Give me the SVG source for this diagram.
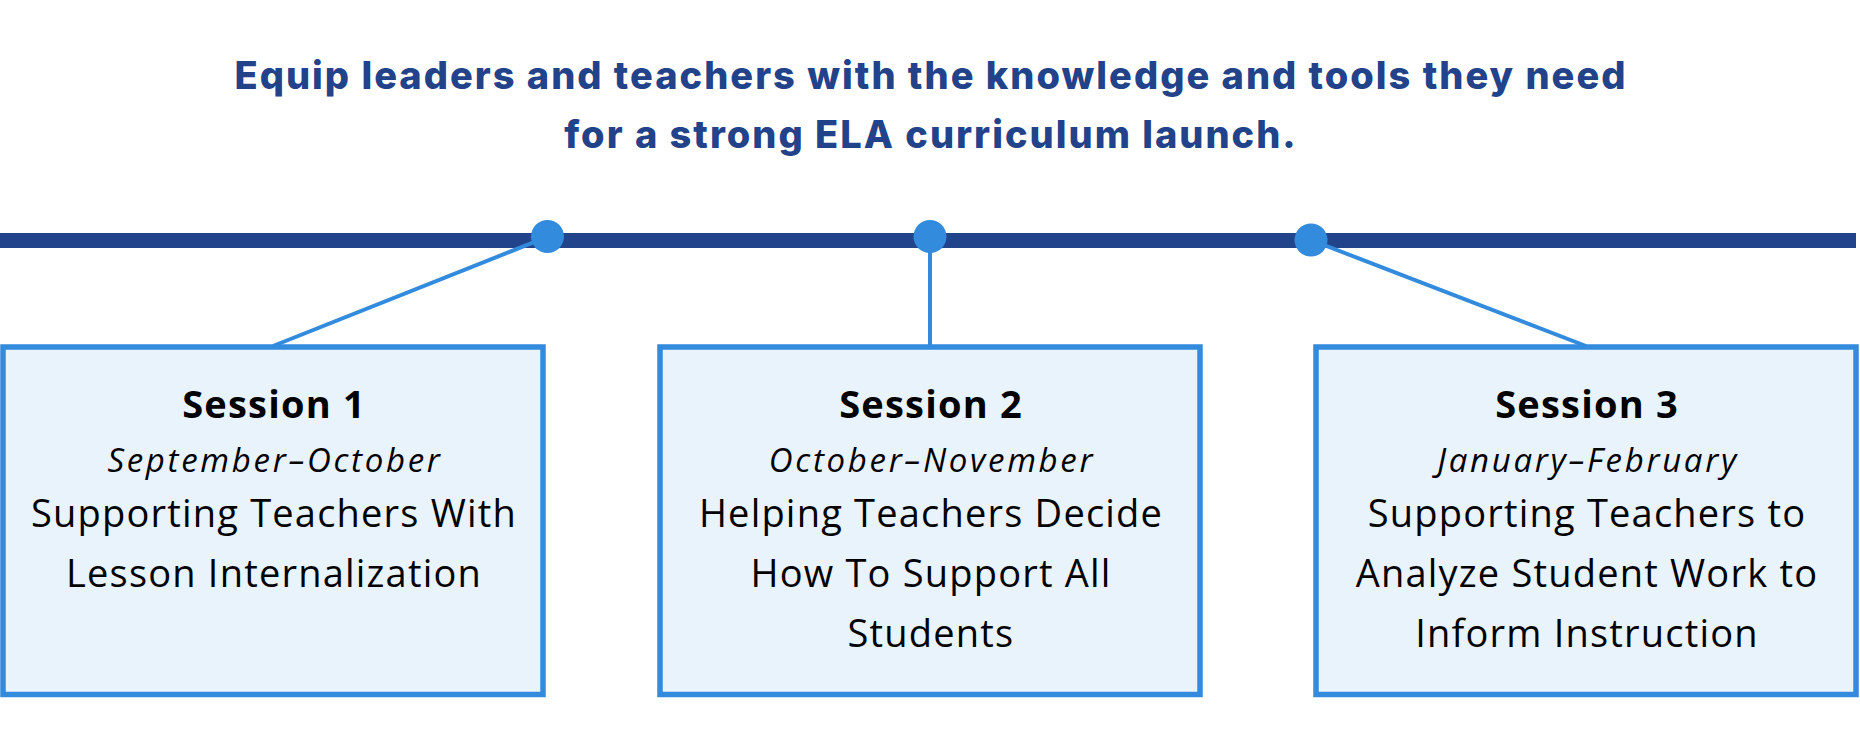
<svg xmlns="http://www.w3.org/2000/svg" width="1860" height="750" viewBox="0 0 1860 750">
<style>
.title{font-family:Inter,"Noto Sans",sans-serif;font-weight:800;font-size:38px;letter-spacing:2px;fill:#22428a;text-anchor:middle}
.box{fill:#e9f3fc;stroke:#338bdd;stroke-width:5.5}
.conn{stroke:#338bdd;stroke-width:4;fill:none}
.dot{fill:#338bdd}
.head{font-family:"Open Sans","Liberation Sans",sans-serif;font-weight:700;font-size:38px;letter-spacing:1.2px;fill:#000;text-anchor:middle}
.date{font-family:"Open Sans","Liberation Sans",sans-serif;font-style:italic;font-size:33px;letter-spacing:2.7px;fill:#000;text-anchor:middle}
.body{font-family:"Open Sans","Liberation Sans",sans-serif;font-size:38px;letter-spacing:1.2px;fill:#000;text-anchor:middle}
</style>
<rect width="1860" height="750" fill="#fff"/>
<g id="title">
<text class="title" x="931" y="89">Equip leaders and teachers with the knowledge and tools they need</text>
<text class="title" x="931" y="148">for a strong ELA curriculum launch.</text>
</g>
<g id="timeline">
<rect x="0" y="233" width="1856" height="15" fill="#22448a"/>
</g>
<g id="connectors">
<line class="conn" x1="273" y1="346" x2="547" y2="237"/>
<line class="conn" x1="930" y1="346" x2="930" y2="237"/>
<line class="conn" x1="1586" y1="346" x2="1311" y2="240"/>
</g>
<g id="dots">
<circle class="dot" cx="547.5" cy="236.5" r="16.5"/>
<circle class="dot" cx="930" cy="236.5" r="16.5"/>
<circle class="dot" cx="1311" cy="240" r="16.5"/>
</g>
<g id="session1">
<rect class="box" x="3" y="347" width="540" height="347.5"/>
<text class="head" x="274" y="417.7">Session 1</text>
<text class="date" x="275" y="471.7">September–October</text>
<text class="body" x="274" y="526.7">Supporting Teachers With</text>
<text class="body" x="274" y="586.7">Lesson Internalization</text>
</g>
<g id="session2">
<rect class="box" x="660" y="347" width="540" height="347.5"/>
<text class="head" x="931" y="417.7">Session 2</text>
<text class="date" x="932" y="471.7">October–November</text>
<text class="body" x="931" y="526.7">Helping Teachers Decide</text>
<text class="body" x="931" y="586.7">How To Support All</text>
<text class="body" x="931" y="646.7">Students</text>
</g>
<g id="session3">
<rect class="box" x="1316" y="347" width="540" height="347.5"/>
<text class="head" x="1587" y="417.7">Session 3</text>
<text class="date" x="1588" y="471.7">January–February</text>
<text class="body" x="1587" y="526.7">Supporting Teachers to</text>
<text class="body" x="1587" y="586.7">Analyze Student Work to</text>
<text class="body" x="1587" y="646.7">Inform Instruction</text>
</g>
</svg>
